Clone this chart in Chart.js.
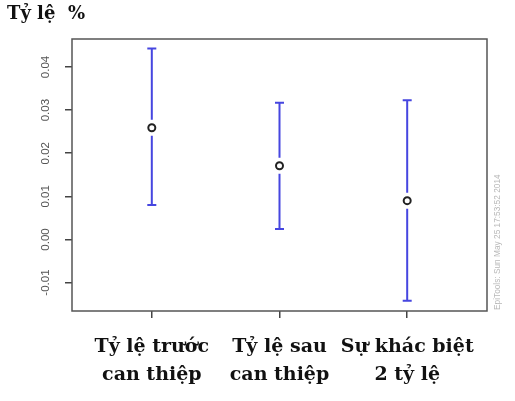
<!DOCTYPE html>
<html>
<head>
<meta charset="utf-8">
<script src="https://cdn.jsdelivr.net/npm/chart.js@4"></script>
<style>
  html, body { margin: 0; padding: 0; background: #fff; }
  #wrap { width: 515px; height: 401px; }
</style>
</head>
<body>
<div id="wrap"><canvas id="c" width="515" height="401"></canvas></div>
<script>
// ---- data ----
const categories = [["Tỷ lệ trước", "can thiệp"], ["Tỷ lệ sau", "can thiệp"], ["Sự khác biệt", "2 tỷ lệ"]];
const xPositions = [1, 2, 3];
const estimates = [0.0259, 0.0171, 0.0090];
const lowerCI = [0.0080, 0.0024, -0.0142];
const upperCI = [0.0443, 0.0317, 0.0323];
const yTicks = [-0.01, 0.00, 0.01, 0.02, 0.03, 0.04];
const titleText = "Tỷ lệ  %";
const watermark = "EpiTools: Sun May 25 17:53:52 2014";

const errorBars = {
  id: 'errorBars',
  afterDatasetsDraw(chart) {
    const ctx = chart.ctx, xs = chart.scales.x, ys = chart.scales.y;
    ctx.save();
    ctx.strokeStyle = '#4646e0';
    ctx.lineWidth = 2;
    const gap = 8, cap = 4.5;
    xPositions.forEach((xv, i) => {
      const x = xs.getPixelForValue(xv);
      const yp = ys.getPixelForValue(estimates[i]);
      const yl = ys.getPixelForValue(lowerCI[i]);
      const yu = ys.getPixelForValue(upperCI[i]);
      ctx.beginPath();
      ctx.moveTo(x, yu); ctx.lineTo(x, yp - gap);
      ctx.moveTo(x, yp + gap); ctx.lineTo(x, yl);
      ctx.moveTo(x - cap, yu); ctx.lineTo(x + cap, yu);
      ctx.moveTo(x - cap, yl); ctx.lineTo(x + cap, yl);
      ctx.stroke();
    });
    ctx.restore();
  }
};

const frame = {
  id: 'frame',
  afterDraw(chart) {
    const ctx = chart.ctx, a = chart.chartArea;
    ctx.save();
    ctx.strokeStyle = '#555';
    ctx.lineWidth = 1.5;
    ctx.strokeRect(a.left, a.top, a.right - a.left, a.bottom - a.top);
    ctx.fillStyle = '#b8b8b8';
    ctx.font = '8.3px "Liberation Sans", Arial, sans-serif';
    ctx.translate(a.right + 11, a.bottom - 1);
    ctx.rotate(-Math.PI / 2);
    ctx.textAlign = 'left';
    ctx.textBaseline = 'middle';
    ctx.fillText(watermark, 0, 0);
    ctx.restore();
  }
};

new Chart(document.getElementById('c'), {
  type: 'scatter',
  data: {
    datasets: [{
      data: xPositions.map((x, i) => ({ x: x, y: estimates[i] })),
      pointRadius: 3.5,
      pointHoverRadius: 3.5,
      pointBorderWidth: 2,
      pointBorderColor: '#222',
      pointBackgroundColor: '#fff'
    }]
  },
  options: {
    responsive: false,
    animation: false,
    events: [],
    layout: { padding: { top: 0, left: 7, right: 28, bottom: 0 } },
    plugins: {
      legend: { display: false },
      tooltip: { enabled: false },
      title: {
        display: true,
        text: titleText,
        align: 'start',
        color: '#111',
        font: { family: '"DejaVu Serif", "Liberation Serif", serif', size: 18, weight: 'bold', lineHeight: 1.2 },
        padding: { top: 4, bottom: 13.4 }
      }
    },
    scales: {
      x: {
        type: 'linear',
        min: 0.375,
        max: 3.625,
        afterBuildTicks(scale) { scale.ticks = xPositions.map(v => ({ value: v })); },
        afterFit(scale) { scale.height = 90; },
        grid: { display: true, drawOnChartArea: false, drawTicks: true, tickLength: 7, color: '#444', lineWidth: 1.5 },
        border: { display: false },
        ticks: {
          autoSkip: false,
          maxRotation: 0,
          minRotation: 0,
          padding: 15,
          color: '#111',
          font: { family: '"DejaVu Serif", "Liberation Serif", serif', size: 19, weight: 'bold', lineHeight: '28px' },
          callback: (v) => { const i = xPositions.indexOf(v); return i >= 0 ? categories[i] : ''; }
        }
      },
      y: {
        min: -0.0166,
        max: 0.0465,
        afterBuildTicks(scale) { scale.ticks = yTicks.map(v => ({ value: v })); },
        afterFit(scale) { scale.width = 65; },
        grid: { display: true, drawOnChartArea: false, drawTicks: true, tickLength: 7, color: '#444', lineWidth: 1.5 },
        border: { display: false },
        ticks: {
          autoSkip: false,
          minRotation: 90,
          maxRotation: 90,
          crossAlign: 'center',
          padding: 6.5,
          color: '#555',
          font: { family: '"Liberation Sans", Arial, sans-serif', size: 11.5 },
          callback: (v) => Number(v).toFixed(2)
        }
      }
    }
  },
  plugins: [errorBars, frame]
});
</script>
</body>
</html>
